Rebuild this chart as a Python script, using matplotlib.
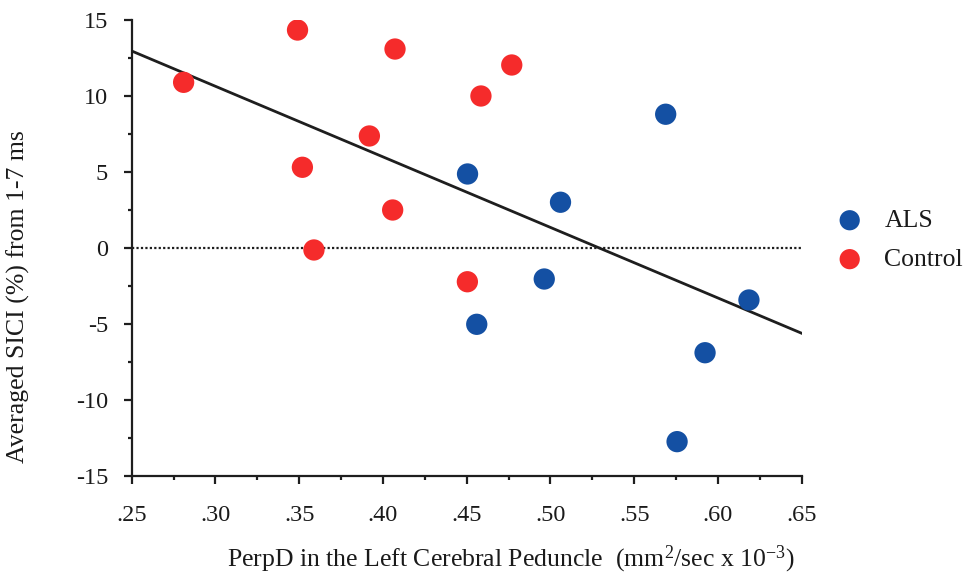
import numpy as np
import matplotlib
matplotlib.use("Agg")
import matplotlib.pyplot as plt
from matplotlib.ticker import MultipleLocator, FixedLocator

plt.rcParams['font.family'] = ['Liberation Serif', 'DejaVu Serif']
plt.rcParams['mathtext.fontset'] = 'custom'
plt.rcParams['mathtext.rm'] = 'Liberation Serif'
plt.rcParams['mathtext.it'] = 'Liberation Serif:italic'
plt.rcParams['axes.unicode_minus'] = False

# ---- data ----
als_x = [0.4505, 0.5060, 0.5688, 0.4963, 0.4560, 0.6185, 0.5923, 0.5756]
als_y = [4.87, 3.01, 8.80, -2.04, -5.02, -3.42, -6.89, -12.74]

ctrl_x = [0.2810, 0.3490, 0.4072, 0.4769, 0.4585, 0.3919, 0.3519, 0.4058, 0.3588, 0.4504]
ctrl_y = [10.90, 14.34, 13.09, 12.04, 10.00, 7.37, 5.31, 2.50, -0.13, -2.22]

fit_x = [0.25, 0.65]
fit_y = [12.96, -5.61]

x_ticks = [0.25, 0.30, 0.35, 0.40, 0.45, 0.50, 0.55, 0.60, 0.65]
x_ticklabels = ['.25', '.30', '.35', '.40', '.45', '.50', '.55', '.60', '.65']
y_ticks = [-15, -10, -5, 0, 5, 10, 15]

blue = '#1450a3'
red = '#f52b2b'
ink = '#1e1e1e'
txt = '#1a1a1a'

fig = plt.figure(figsize=(9.66, 5.75), dpi=100)
ax = fig.add_axes([131.7 / 966, 1 - 476 / 575, 670 / 966, 456 / 575])

ax.plot([0.25, 0.65], [0, 0], linestyle=(0, (1, 1)), color=ink, lw=1.6, zorder=1)
ax.plot(fit_x, fit_y, color=ink, lw=2.0, zorder=2)
ax.scatter(als_x, als_y, s=235, color=blue, edgecolors='none', label='ALS', zorder=3)
ax.scatter(ctrl_x, ctrl_y, s=235, color=red, edgecolors='none', label='Control', zorder=3)

ax.set_xlim(0.25, 0.65)
ax.set_ylim(-15, 15)
ax.xaxis.set_major_locator(FixedLocator(x_ticks))
ax.set_xticklabels(x_ticklabels)
ax.xaxis.set_minor_locator(MultipleLocator(0.025))
ax.set_yticks(y_ticks)
ax.yaxis.set_minor_locator(MultipleLocator(2.5))

for s in ['top', 'right']:
    ax.spines[s].set_visible(False)
for s in ['left', 'bottom']:
    ax.spines[s].set_linewidth(1.6)
    ax.spines[s].set_color(ink)

ax.tick_params(which='major', direction='out', length=6, width=1.6, color=ink,
               labelsize=17.5, labelcolor=txt)
ax.tick_params(axis='x', which='major', pad=15)
ax.tick_params(axis='y', which='major', pad=11)
ax.tick_params(which='minor', direction='out', length=3, width=1.6, color=ink)

ax.set_xlabel('PerpD in the Left Cerebral Peduncle  (mm$^{2}$/sec x 10$^{-3}$)',
              fontsize=18.5, color=txt)
ax.xaxis.set_label_coords(0.566, -0.148)
ax.set_ylabel('Averaged SICI (%) from 1-7 ms', fontsize=18.5, color=txt)
ax.yaxis.set_label_coords(-0.152, 0.393)

leg = ax.legend(loc='upper left', bbox_to_anchor=(824 / 966, 1 - 209 / 575),
                bbox_transform=fig.transFigure, frameon=False, fontsize=18.5,
                handletextpad=0.35, labelspacing=0.62, scatterpoints=1,
                markerscale=0.95, borderaxespad=0, borderpad=0)
for t in leg.get_texts():
    t.set_color(txt)

fig.savefig('out.png', dpi=100)
